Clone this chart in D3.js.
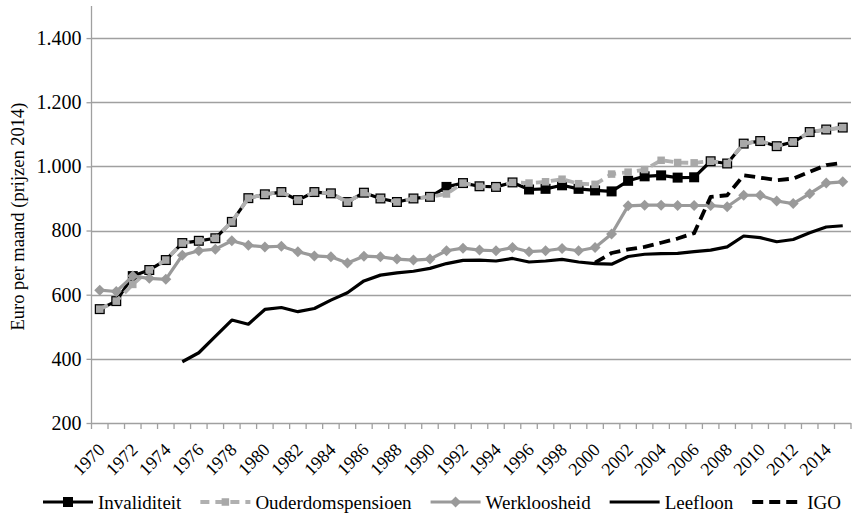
<!DOCTYPE html>
<html>
<head>
<meta charset="utf-8">
<script src="https://cdn.jsdelivr.net/npm/d3@7"></script>
<style>
    body { margin: 0; background: #fff; }
    text { font-family: "Liberation Serif", "Times New Roman", serif; fill: #000; }
</style>
</head>
<body>
<script>
"use strict";

// years 1970 - 2015
let years = d3.range(1970, 2016);

let invaliditeit = [555, 580, 658, 677, 708, 761, 768, 776, 827, 901, 913, 920, 895, 920, 916, 889,
    918, 900, 889, 900, 905, 936, 948, 938, 936, 950, 928, 930, 941, 930, 925, 922,
    955, 969, 972, 965, 966, 1016, 1009, 1071, 1079, 1063, 1076, 1107, 1115, 1121];

let ouderdom = [555, 580, 632, 677, 708, 761, 768, 776, 827, 901, 913, 920, 895, 920, 916, 889,
    918, 900, 889, 900, 905, 914, 948, 938, 936, 950, 948, 952, 960, 946, 944, 976,
    982, 990, 1019, 1012, 1011, 1016, 1009, 1071, 1079, 1063, 1076, 1107, 1115, 1121];

let werkloosheid = [614, 610, 658, 651, 648, 723, 737, 742, 768, 754, 749, 751, 734, 721, 718, 699,
    720, 718, 711, 708, 711, 737, 745, 739, 737, 747, 734, 737, 744, 737, 747, 789,
    877, 879, 879, 878, 878, 878, 874, 910, 910, 892, 884, 915, 948, 952];

// leefloon starts in 1975
let leefloon = [null, null, null, null, null, 391, 419, 470, 521, 508, 554, 560, 547, 557, 583, 606,
    643, 661, 668, 673, 682, 697, 707, 708, 705, 713, 702, 705, 710, 702, 697, 695,
    719, 726, 728, 729, 734, 739, 749, 783, 778, 765, 772, 793, 811, 815];

// igo starts in 2000
let igo = [null, null, null, null, null, null, null, null, null, null, null, null, null, null, null, null,
    null, null, null, null, null, null, null, null, null, null, null, null, null, null, 700, 730,
    741, 749, 762, 775, 792, 905, 910, 972, 965, 957, 962, 983, 1004, 1011];

let yTicks = [200, 400, 600, 800, 1000, 1200, 1400];

(function () {

    let width = 853, height = 519;
    let plot = {left: 91.5, right: 851, top: 6, bottom: 423};

    let svg = d3.select("body").append("svg")
        .attr("width", width)
        .attr("height", height);

    let x = d3.scaleBand()
        .domain(years)
        .range([plot.left, plot.right]);

    let y = d3.scaleLinear()
        .domain([200, 1500])
        .range([plot.bottom, plot.top]);

    let nl = d3.formatLocale({decimal: ",", thousands: ".", grouping: [3], currency: ["€", ""]});
    let fmt = nl.format(",d");

    let cx = function (d) { return x(d) + x.bandwidth() / 2; };

    // gridlines
    svg.append("g")
        .selectAll("line")
        .data(yTicks.slice(1))
        .enter().append("line")
        .attr("x1", plot.left)
        .attr("x2", plot.right)
        .attr("y1", function (d) { return Math.round(y(d)) + 0.5; })
        .attr("y2", function (d) { return Math.round(y(d)) + 0.5; })
        .attr("stroke", "#a0a0a0")
        .attr("stroke-width", 1.3);

    // y axis
    let yAxis = svg.append("g")
        .attr("transform", "translate(" + plot.left + ",0)")
        .call(d3.axisLeft(y).tickValues(yTicks).tickFormat(fmt).tickSize(5).tickPadding(5));
    yAxis.select(".domain").attr("stroke", "#a0a0a0").attr("stroke-width", 1.3)
        .attr("d", "M0," + plot.top + "V" + plot.bottom);
    yAxis.selectAll(".tick line").attr("stroke", "#a0a0a0").attr("stroke-width", 1.3);
    yAxis.selectAll(".tick text")
        .style("font-family", "Liberation Serif")
        .style("font-size", "20px")
        .attr("fill", "#000");

    // x axis: tick marks at category boundaries
    let xg = svg.append("g");
    xg.append("line")
        .attr("x1", plot.left).attr("x2", plot.right)
        .attr("y1", plot.bottom + 0.5).attr("y2", plot.bottom + 0.5)
        .attr("stroke", "#a0a0a0").attr("stroke-width", 1.3);
    xg.selectAll("line.tick")
        .data(years.concat([2016]))
        .enter().append("line")
        .attr("class", "tick")
        .attr("x1", function (d, i) { return plot.left + i * x.bandwidth(); })
        .attr("x2", function (d, i) { return plot.left + i * x.bandwidth(); })
        .attr("y1", plot.bottom)
        .attr("y2", plot.bottom + 6)
        .attr("stroke", "#a0a0a0").attr("stroke-width", 1.3);
    xg.selectAll("text")
        .data(years.filter(function (d) { return d % 2 === 0; }))
        .enter().append("text")
        .attr("transform", function (d) {
            return "translate(" + (cx(d) + 6) + "," + (plot.bottom + 28) + ") rotate(-45)";
        })
        .attr("text-anchor", "end")
        .style("font-size", "18px")
        .text(function (d) { return d; });

    // y label
    svg.append("text")
        .attr("transform", "translate(24," + ((plot.top + plot.bottom) / 2 + 2) + ") rotate(-90)")
        .attr("text-anchor", "middle")
        .style("font-size", "18.5px")
        .text("Euro per maand (prijzen 2014)");

    let series = [
        {name: "Invaliditeit", values: invaliditeit, color: "#000", width: 3.2, dash: null, marker: "square", msize: 10, mfill: "#000"},
        {name: "Ouderdomspensioen", values: ouderdom, color: "#b0b0b0", width: 3.8, dash: "9,6", marker: "square", msize: 7.5, mfill: "#a8a8a8"},
        {name: "Werkloosheid", values: werkloosheid, color: "#9a9a9a", width: 3.2, dash: null, marker: "diamond", msize: 9, mfill: "#9a9a9a"},
        {name: "Leefloon", values: leefloon, color: "#000", width: 3.2, dash: null, marker: null},
        {name: "IGO", values: igo, color: "#000", width: 3.8, dash: "11,6", marker: null}
    ];

    let line = d3.line()
        .defined(function (d) { return d.v !== null; })
        .x(function (d) { return cx(d.year); })
        .y(function (d) { return y(d.v); });

    function marker(g, s, px, py) {
        if (s.marker === "square") {
            g.append("rect")
                .attr("x", px - s.msize / 2).attr("y", py - s.msize / 2)
                .attr("width", s.msize).attr("height", s.msize)
                .attr("fill", s.mfill);
        } else if (s.marker === "diamond") {
            let r = s.msize / 2 + 1;
            g.append("path")
                .attr("d", "M" + px + "," + (py - r) + "L" + (px + r) + "," + py +
                    "L" + px + "," + (py + r) + "L" + (px - r) + "," + py + "Z")
                .attr("fill", s.mfill);
        }
    }

    series.forEach(function (s) {
        let pts = years.map(function (yr, i) { return {year: yr, v: s.values[i]}; });
        let g = svg.append("g");
        g.append("path")
            .datum(pts)
            .attr("d", line)
            .attr("fill", "none")
            .attr("stroke", s.color)
            .attr("stroke-width", s.width)
            .attr("stroke-linejoin", "round")
            .attr("stroke-dasharray", s.dash);
        pts.filter(function (d) { return d.v !== null; }).forEach(function (d) {
            marker(g, s, cx(d.year), y(d.v));
        });
    });

    // legend
    let legend = svg.append("g").attr("transform", "translate(0,502)");
    let lx = 43;
    series.forEach(function (s) {
        legend.append("line")
            .attr("x1", lx).attr("x2", lx + 50)
            .attr("y1", 0).attr("y2", 0)
            .attr("stroke", s.color)
            .attr("stroke-width", s.width)
            .attr("stroke-dasharray", s.dash);
        marker(legend, s, lx + 25, 0);
        let t = legend.append("text")
            .attr("x", lx + 55)
            .attr("y", 6.5)
            .style("font-size", "19px")
            .text(s.name);
        lx += 55 + t.node().getComputedTextLength() + 19;
    });
})();
</script>
</body>
</html>
